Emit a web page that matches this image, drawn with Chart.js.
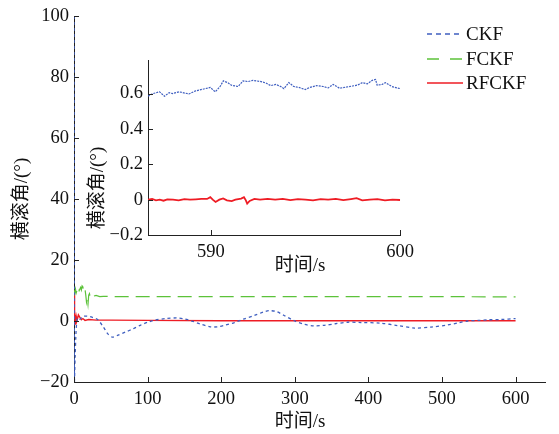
<!DOCTYPE html>
<html>
<head>
<meta charset="utf-8">
<script src="https://cdn.jsdelivr.net/npm/chart.js@4.4.1/dist/chart.umd.min.js"></script>
<style>
  html, body { margin: 0; padding: 0; background: #fff; }
  #wrap { position: relative; width: 559px; height: 434px; }
  #mainBox { position: absolute; left: 0; top: 0; width: 559px; height: 434px; }
  #insetBox { position: absolute; left: 80px; top: 40px; width: 340px; height: 245px; }
</style>
</head>
<body>
<div id="wrap">
  <div id="mainBox"><canvas id="mainChart"></canvas></div>
  <div id="insetBox"><canvas id="insetChart"></canvas></div>
</div>
<script>
// main chart data (time in s, roll angle in deg)
const ckfT = [0, 0.6, 1.5, 2.5, 3.5, 5, 8, 12, 18, 25, 32, 40, 46, 52, 60, 70, 80, 90, 100, 110, 125, 140, 150, 160, 172, 185, 195, 205, 218, 230, 245, 258, 265, 275, 285, 300, 313, 326, 340, 355, 372, 390, 417, 440, 463, 485, 508, 522, 535, 550, 563, 580, 600];
const ckfV = [100, -20, -12, -5, -1, 1, 0.6, 1.5, 1.6, 1.2, 0.5, -2, -4.2, -5.3, -4.6, -3.6, -2.6, -1.4, -0.4, 0.3, 0.8, 1, 0.7, 0, -1, -1.9, -1.9, -1.4, -0.5, 0.6, 1.8, 3, 3.4, 3.1, 1.9, 0, -1.1, -1.6, -1.4, -0.9, -0.4, -0.5, -0.7, -1.5, -2.3, -2, -1.3, -0.6, 0, 0.2, 0.4, 0.5, 0.8];

const fckfT = [0, 1, 2, 3, 4, 5, 6, 7, 8, 9, 10, 11, 12, 13, 14, 15, 16, 17, 18, 19, 20, 21, 22, 24, 27, 30, 35, 40, 60, 100, 200, 300, 400, 500, 600];
const fckfV = [10, 9, 10.5, 9.2, 10, 9.6, 10.8, 10, 10.5, 11, 10.2, 11.5, 11.2, 10, 9.5, 10.3, 8.5, 6.2, 7.5, 5.5, 8.5, 9, 7.8, 8.6, 8.2, 8.4, 8, 8.1, 8, 8, 8, 8, 8, 8, 7.9];

const rfckfT = [0, 0.5, 1, 1.5, 2, 2.5, 3, 4, 5, 6, 8, 10, 12, 15, 20, 30, 50, 100, 200, 300, 400, 500, 600];
const rfckfV = [10, 6, 3, -1, 2, -0.5, 1.5, 0.2, 1, 2, 1.2, 0.4, 0.8, 0.2, 0.5, 0.3, 0.3, 0.2, 0.1, 0.1, 0.1, 0.1, 0.1];

const mainXTicks = [0, 100, 200, 300, 400, 500, 600];
const mainYTicks = [-20, 0, 20, 40, 60, 80, 100];

// inset data (586.7 s .. 600 s)
const insetCkfT = [586.68, 586.94, 587.29, 587.55, 587.8, 587.98, 588.32, 588.84, 589.19, 589.71, 589.97, 590.23, 590.49, 590.66, 590.92, 591.09, 591.44, 591.7, 591.96, 592.22, 592.65, 592.91, 593.17, 593.43, 593.69, 593.86, 594.12, 594.38, 594.64, 594.98, 595.24, 595.59, 595.94, 596.2, 596.46, 596.8, 597.15, 597.49, 597.75, 598.01, 598.27, 598.53, 598.7, 598.79, 599.05, 599.22, 599.56, 600];
const insetCkfV = [0.585, 0.6, 0.61, 0.585, 0.605, 0.6, 0.61, 0.598, 0.615, 0.628, 0.635, 0.61, 0.64, 0.672, 0.66, 0.647, 0.64, 0.672, 0.668, 0.675, 0.668, 0.66, 0.645, 0.652, 0.64, 0.628, 0.662, 0.64, 0.635, 0.623, 0.635, 0.645, 0.64, 0.632, 0.652, 0.63, 0.637, 0.643, 0.648, 0.662, 0.655, 0.675, 0.68, 0.647, 0.652, 0.662, 0.64, 0.628];

const insetRfT = [586.68, 586.9, 587.1, 587.3, 587.5, 587.7, 588, 588.3, 588.6, 588.9, 589.2, 589.5, 589.8, 589.97, 590.1, 590.25, 590.45, 590.65, 590.85, 591.1, 591.3, 591.6, 591.75, 591.85, 591.92, 592.05, 592.3, 592.6, 593, 593.4, 593.8, 594.2, 594.6, 595, 595.4, 595.8, 596.2, 596.6, 597, 597.4, 597.7, 598, 598.4, 598.8, 599.2, 599.6, 600];
const insetRfV = [0, 0.004, -0.004, 0, -0.006, 0.002, 0, -0.004, 0.003, 0, 0.002, 0.004, 0.004, 0.014, 0, -0.013, 0, 0.007, -0.004, -0.008, 0, 0.006, 0.014, -0.004, -0.022, -0.007, 0.004, 0, 0.004, 0, 0.004, -0.003, 0.003, 0, -0.004, 0.003, 0, 0.004, -0.003, 0.003, 0.008, -0.004, 0, 0.003, -0.004, 0, -0.002];

const insetXTicks = [590, 600];
const insetYTicks = [-0.2, 0, 0.2, 0.4, 0.6];

const legendNames = ['CKF', 'FCKF', 'RFCKF'];
const BLUE = '#3f5fc0', GREEN = '#5cc23a', RED = '#ee1c24';
const serif = '"Liberation Serif", "Times New Roman", serif';
const cjk = '"Liberation Serif", "Noto Sans CJK SC", serif';

const toPts = (xs, ys) => xs.map((x, i) => ({ x: x, y: ys[i] }));
const minus = v => String(v).replace('-', '\u2212');

// draw tick marks pointing into the plot, plus free text items
const inTicks = {
    id: 'inTicks',
    afterDatasetsDraw(chart, args, opts) {
        const ctx = chart.ctx;
        const { x, y } = chart.scales;
        ctx.save();
        ctx.strokeStyle = '#222';
        ctx.lineWidth = 1;
        ctx.beginPath();
        x.ticks.forEach(t => {
            const px = Math.round(x.getPixelForValue(t.value)) + 0.5;
            ctx.moveTo(px, y.bottom);
            ctx.lineTo(px, y.bottom - 5);
        });
        y.ticks.forEach(t => {
            const py = Math.round(y.getPixelForValue(t.value)) + 0.5;
            ctx.moveTo(x.left, py);
            ctx.lineTo(x.left + 5, py);
        });
        ctx.stroke();

        ctx.fillStyle = '#111';
        (opts.texts || []).forEach(t => {
            ctx.save();
            ctx.font = t.font;
            ctx.textAlign = 'center';
            ctx.textBaseline = 'middle';
            ctx.translate(t.x, t.y);
            if (t.rot) ctx.rotate(t.rot);
            ctx.fillText(t.text, 0, 0);
            ctx.restore();
        });

        // legend
        if (opts.legend) {
            const ds = chart.data.datasets;
            opts.legend.rows.forEach((ry, i) => {
                ctx.save();
                ctx.strokeStyle = ds[i].borderColor;
                ctx.lineWidth = 1.3;
                ctx.setLineDash(opts.legend.dashes[i]);
                ctx.beginPath();
                ctx.moveTo(opts.legend.x0, ry);
                ctx.lineTo(opts.legend.x1, ry);
                ctx.stroke();
                ctx.restore();
                ctx.font = '19px ' + serif;
                ctx.textAlign = 'left';
                ctx.textBaseline = 'middle';
                ctx.fillText(legendNames[i], opts.legend.x1 + 3, ry + 1);
            });
        }
        ctx.restore();
    }
};

new Chart(document.getElementById('mainChart'), {
    type: 'line',
    data: {
        datasets: [
            { label: legendNames[0], data: toPts(ckfT, ckfV), borderColor: BLUE, borderWidth: 1.3, borderDash: [3, 3], pointRadius: 0, tension: 0.3 },
            { label: legendNames[1], data: toPts(fckfT, fckfV), borderColor: GREEN, borderWidth: 1.2, borderDash: [14, 7], pointRadius: 0 },
            { label: legendNames[2], data: toPts(rfckfT, rfckfV), borderColor: RED, borderWidth: 1.4, pointRadius: 0 }
        ]
    },
    options: {
        responsive: true,
        maintainAspectRatio: false,
        animation: false,
        layout: { padding: { left: 0, top: 16, right: 14, bottom: 0 } },
        plugins: {
            legend: { display: false },
            tooltip: { enabled: false },
            inTicks: {
                texts: [
                    { text: '横滚角/(°)', x: 22, y: 199, rot: -Math.PI / 2, font: '19px ' + cjk },
                    { text: '时间/s', x: 300, y: 422, font: '19px ' + cjk }
                ],
                legend: { x0: 427, x1: 463, rows: [34, 59, 83], dashes: [[5, 4], [12, 11], []] }
            }
        },
        scales: {
            x: {
                type: 'linear', min: 0, max: 640,
                afterBuildTicks: s => { s.ticks = mainXTicks.map(v => ({ value: v })); },
                afterFit: s => { s.height = 52; },
                grid: { drawOnChartArea: false, drawTicks: false },
                border: { color: '#222', width: 1 },
                ticks: { color: '#111', padding: 6, maxRotation: 0, font: { family: serif, size: 18.5 } }
            },
            y: {
                min: -20, max: 100,
                afterBuildTicks: s => { s.ticks = mainYTicks.map(v => ({ value: v })); },
                afterFit: s => { s.width = 74; },
                grid: { drawOnChartArea: false, drawTicks: false },
                border: { color: '#222', width: 1 },
                ticks: { color: '#111', padding: 5, font: { family: serif, size: 18.5 }, callback: v => minus(v) }
            }
        }
    },
    plugins: [inTicks]
});

new Chart(document.getElementById('insetChart'), {
    type: 'line',
    data: {
        datasets: [
            { label: legendNames[0], data: toPts(insetCkfT, insetCkfV), borderColor: BLUE, borderWidth: 1.2, borderDash: [2, 1], pointRadius: 0 },
            { label: legendNames[2], data: toPts(insetRfT, insetRfV), borderColor: RED, borderWidth: 1.8, pointRadius: 0 }
        ]
    },
    options: {
        responsive: true,
        maintainAspectRatio: false,
        animation: false,
        layout: { padding: { left: 0, top: 20, right: 15, bottom: 0 } },
        plugins: {
            legend: { display: false },
            tooltip: { enabled: false },
            inTicks: {
                texts: [
                    { text: '横滚角/(°)', x: 18, y: 148, rot: -Math.PI / 2, font: '19px ' + cjk },
                    { text: '时间/s', x: 220, y: 226, font: '19px ' + cjk }
                ]
            }
        },
        scales: {
            x: {
                type: 'linear', min: 586.68, max: 600,
                afterBuildTicks: s => { s.ticks = insetXTicks.map(v => ({ value: v })); },
                afterFit: s => { s.height = 50; },
                grid: { drawOnChartArea: false, drawTicks: false },
                border: { color: '#222', width: 1 },
                ticks: { color: '#111', padding: 6, maxRotation: 0, font: { family: serif, size: 18.5 } }
            },
            y: {
                min: -0.2, max: 0.79,
                afterBuildTicks: s => { s.ticks = insetYTicks.map(v => ({ value: v })); },
                afterFit: s => { s.width = 68; },
                grid: { drawOnChartArea: false, drawTicks: false },
                border: { color: '#222', width: 1 },
                ticks: { color: '#111', padding: 5, font: { family: serif, size: 18.5 }, callback: v => minus(Math.round(v * 10) / 10) }
            }
        }
    },
    plugins: [inTicks]
});
</script>
</body>
</html>
